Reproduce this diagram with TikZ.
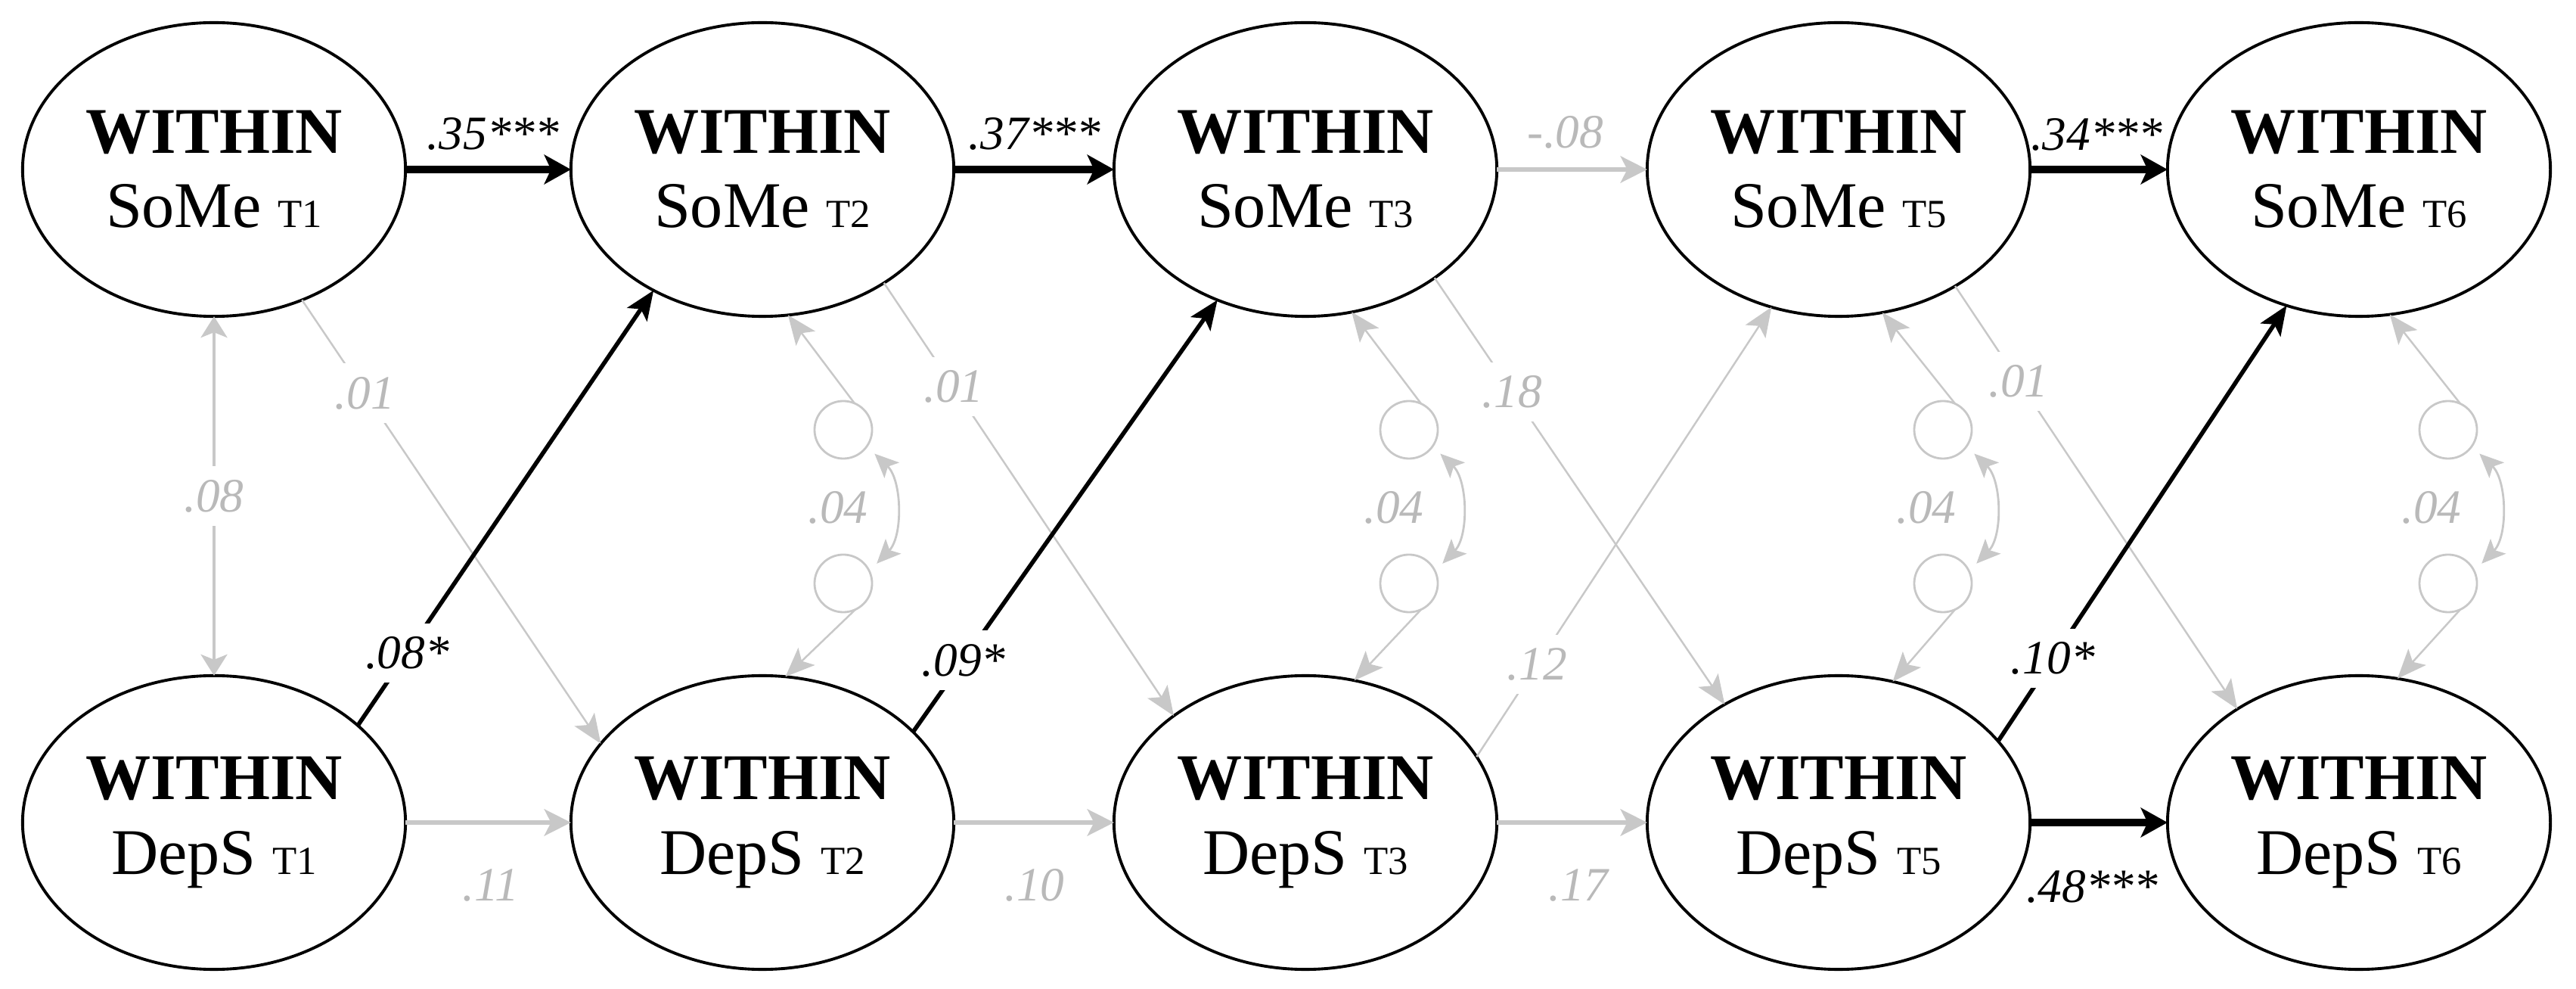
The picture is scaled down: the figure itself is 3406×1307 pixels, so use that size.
\documentclass[tikz,border=0pt]{standalone}
\usepackage{fontspec}
\setmainfont{Liberation Serif}
\usetikzlibrary{arrows.meta,shapes.geometric}
\definecolor{lg}{RGB}{200,200,200}
\definecolor{lgt}{RGB}{185,185,185}
\begin{document}
\begin{tikzpicture}[x=0.01cm,y=-0.01cm,
  lat/.style={ellipse, draw, line width=1.1pt, minimum width=5.06cm, minimum height=3.88cm,
    inner sep=0pt, outer sep=0pt, fill=white, align=center,
    font=\fontsize{24.5}{27.9}\selectfont},
  res/.style={circle, draw=lg, line width=0.8pt, minimum size=0.76cm, inner sep=0pt, outer sep=0pt},
  bthick/.style={line width=2.8pt, -{Stealth[length=10pt,width=11pt,inset=2.5pt]}},
  bdiag/.style={line width=1.6pt, -{Stealth[length=11pt,width=9pt,inset=2.5pt]}},
  gthick/.style={color=lg, line width=1.6pt, -{Stealth[length=10pt,width=10pt,inset=2.5pt]}},
  gthin/.style={color=lg, line width=0.7pt, -{Stealth[length=11pt,width=9pt,inset=2.5pt]}},
  gcov/.style={color=lg, line width=0.9pt, {Stealth[length=8pt,width=10pt,inset=2pt]}-{Stealth[length=8pt,width=10pt,inset=2pt]}},
  gcurve/.style={color=lg, line width=0.8pt, shorten <=4pt, shorten >=4pt,
    {Stealth[length=9pt,width=8pt,inset=2pt]}-{Stealth[length=9pt,width=8pt,inset=2pt]}},
  lab/.style={font=\fontsize{18}{18}\selectfont\itshape, inner sep=1pt},
  glab/.style={lab, text=lgt},
  onl/.style={fill=white, inner sep=5pt}
]
\useasboundingbox (0,0) rectangle (3406,1307);

% latent variables
\newcommand{\tsub}[1]{{\fontsize{15}{15}\selectfont #1}}
\node[lat] (s1) at (283,224)  {\textbf{WITHIN}\\SoMe \tsub{T1}};
\node[lat] (s2) at (1008,224) {\textbf{WITHIN}\\SoMe \tsub{T2}};
\node[lat] (s3) at (1726,224) {\textbf{WITHIN}\\SoMe \tsub{T3}};
\node[lat] (s5) at (2431,224) {\textbf{WITHIN}\\SoMe \tsub{T5}};
\node[lat] (s6) at (3119,224) {\textbf{WITHIN}\\SoMe \tsub{T6}};
\node[lat] (d1) at (283,1087)  {\textbf{WITHIN}\\DepS \tsub{T1}};
\node[lat] (d2) at (1008,1087) {\textbf{WITHIN}\\DepS \tsub{T2}};
\node[lat] (d3) at (1726,1087) {\textbf{WITHIN}\\DepS \tsub{T3}};
\node[lat] (d5) at (2431,1087) {\textbf{WITHIN}\\DepS \tsub{T5}};
\node[lat] (d6) at (3119,1087) {\textbf{WITHIN}\\DepS \tsub{T6}};

% residual circles
\node[res] (r2s) at (1115,568) {};
\node[res] (r2d) at (1115,771) {};
\node[res] (r3s) at (1863,568) {};
\node[res] (r3d) at (1863,771) {};
\node[res] (r5s) at (2569,568) {};
\node[res] (r5d) at (2569,771) {};
\node[res] (r6s) at (3237,568) {};
\node[res] (r6d) at (3237,771) {};

% residual arrows
\draw[gthin] (r2s.67) -- (s2.280);
\draw[gthin] (r3s.65) -- (s3.288);
\draw[gthin] (r5s.65) -- (s5.287);
\draw[gthin] (r6s.65) -- (s6.282);
\draw[gthin] (r2d.-65) -- (d2.81);
\draw[gthin] (r3d.-65) -- (d3.71);
\draw[gthin] (r5d.-65) -- (d5.69);
\draw[gthin] (r6d.-65) -- (d6.75);

% residual covariances
\draw[gcurve] (r2s.-35) to[bend left=45] (r2d.25);
\draw[gcurve] (r3s.-35) to[bend left=45] (r3d.25);
\draw[gcurve] (r5s.-35) to[bend left=45] (r5d.25);
\draw[gcurve] (r6s.-35) to[bend left=45] (r6d.25);
\node[glab] (c2) at (1108,671) {.04};
\node[glab] (c3) at (1843,671) {.04};
\node[glab] (c5) at (2547,671) {.04};
\node[glab] (c6) at (3215,671) {.04};

% T1 covariance
\draw[gcov] (s1.south) -- node[glab, onl] (l08) {.08} (d1.north);

% cross-lagged SoMe -> DepS (grey)
\draw[gthin] (s1.304) -- node[glab, onl, pos=.21] (x1) {.01} (d2.154);
\draw[gthin] (s2.317) -- node[glab, onl, pos=.24] (x2) {.01} (d3.141);
\draw[gthin] (s3.320) -- node[glab, onl, pos=.267] (x3) {.18} (d5.134);
\draw[gthin] (s5.315) -- node[glab, onl, pos=.225] (x5) {.01} (d6.137);

% cross-lagged DepS -> SoMe
\draw[gthin] (d3.21) -- node[glab, onl, pos=.205] (y3) {.12} (s5.244);
\draw[bdiag] (d1.34) -- node[lab, onl, pos=.167] (y1) {.08*} (s2.228);
\draw[bdiag] (d2.31) -- node[lab, onl, pos=.166] (y2) {.09*} (s3.236);
\draw[bdiag] (d5.27) -- node[lab, onl, pos=.19] (y5) {.10*} (s6.242);

% autoregressive SoMe
\draw[bthick] (s1.east) -- (s2.west);
\draw[bthick] (s2.east) -- (s3.west);
\draw[gthick] (s3.east) -- (s5.west);
\draw[bthick] (s5.east) -- (s6.west);
\node[lab] (a1) at (652,177) {.35***};
\node[lab] (a2) at (1368,177) {.37***};
\node[glab] (a3) at (2070,175) {-.08};
\node[lab] (a5) at (2772,178) {.34***};

% autoregressive DepS
\draw[gthick] (d1.east) -- (d2.west);
\draw[gthick] (d2.east) -- (d3.west);
\draw[gthick] (d3.east) -- (d5.west);
\draw[bthick] (d5.east) -- (d6.west);
\node[glab] (b1) at (649,1170) {.11};
\node[glab] (b2) at (1368,1170) {.10};
\node[glab] (b3) at (2087,1170) {.17};
\node[lab] (b5) at (2766,1172) {.48***};
\end{tikzpicture}
\end{document}
